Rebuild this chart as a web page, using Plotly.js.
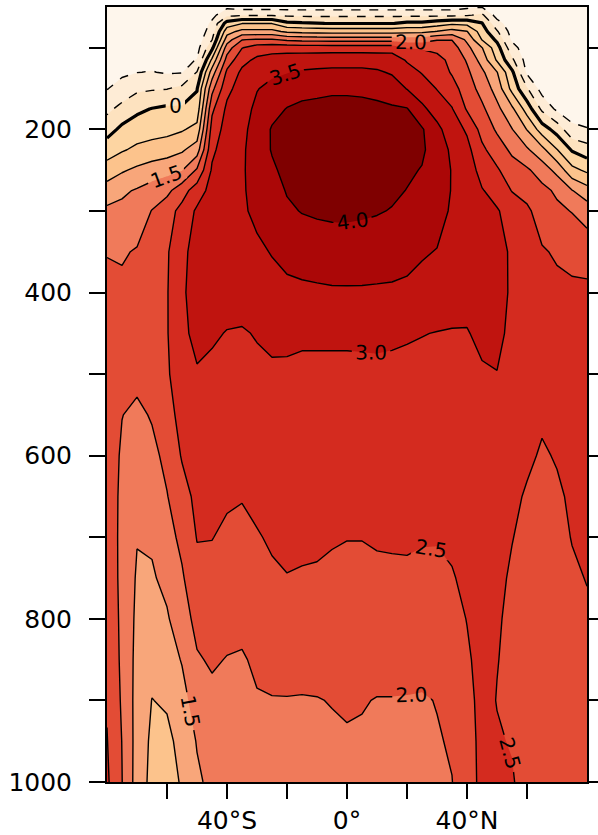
<!DOCTYPE html>
<html><head><meta charset="utf-8">
<script src="https://cdn.plot.ly/plotly-3.0.1.min.js"></script>
<style>html,body{margin:0;padding:0;background:#fff;}#chart{width:598px;height:835px;}</style>
</head><body><div id="chart"></div>
<script>
// latitude (deg, negative = S) and pressure (hPa)
const latitudes = [-80,-75,-70,-65,-60,-55,-50,-45,-40,-35,-30,-25,-20,-15,-10,-5,0,5,10,15,20,25,30,35,40,45,50,55,60,65,70,75,80];
const pressureLevels = [50,60,70,80,90,100,115,130,150,175,200,225,250,275,300,350,400,450,500,550,600,650,700,750,800,850,900,950,1000];
// one vertical profile per latitude, values at pressureLevels (top -> bottom)
const profiles = [
 [-1.5,-1.45,-1.4,-1.35,-1.3,-1.25,-1.17,-1.1,-1.02,-0.62,-0.2,0.27,0.72,1.23,1.6,1.98,2.12,2.2,2.25,2.28,2.3,2.32,2.34,2.36,2.4,2.43,2.46,2.52,2.58],
 [-1.5,-1.45,-1.4,-1.35,-1.3,-1.25,-1.17,-1.08,-0.83,-0.34,0.11,0.45,0.94,1.41,1.63,1.95,2.1,2.12,2.08,2.01,1.93,1.88,1.86,1.86,1.88,1.9,1.94,1.99,2.01],
 [-1.5,-1.45,-1.4,-1.35,-1.3,-1.22,-1.12,-1.01,-0.6,-0.1,0.25,0.6,1.1,1.55,1.7,2.04,2.25,2.28,2.13,1.9,1.76,1.64,1.52,1.45,1.4,1.36,1.33,1.32,1.3],
 [-1.5,-1.45,-1.4,-1.35,-1.3,-1.22,-1.12,-0.98,-0.55,0.02,0.32,0.68,1.25,1.7,2.02,2.2,2.3,2.3,2.2,2.04,1.88,1.72,1.56,1.45,1.3,1.15,0.99,0.9,0.85],
 [-1.5,-1.45,-1.4,-1.35,-1.28,-1.2,-1.1,-1.05,-0.52,0.1,0.35,0.77,1.34,1.87,2.3,2.45,2.47,2.47,2.43,2.3,2.12,1.98,1.82,1.62,1.45,1.28,1.06,0.88,0.8],
 [-1.5,-1.45,-1.4,-1.35,-1.28,-1.2,-1.12,-1.03,-0.38,0.08,0.45,0.93,1.48,2.3,2.65,2.86,2.93,2.9,2.82,2.68,2.54,2.31,2.12,1.94,1.77,1.53,1.33,1.16,1.05],
 [-1.5,-1.45,-1.4,-1.35,-1.28,-1.18,-0.98,-0.48,-0.03,0.2,0.65,1.25,2.07,2.75,3.08,3.22,3.2,3.12,2.96,2.84,2.72,2.62,2.52,2.36,2.15,1.95,1.73,1.53,1.42],
 [-1.35,-1.15,-0.9,-0.75,-0.52,-0.12,0.6,1.23,1.85,2.4,2.7,2.9,3.06,3.18,3.25,3.28,3.2,3.06,2.9,2.78,2.68,2.6,2.51,2.38,2.25,2.06,1.88,1.72,1.62],
 [-1.1,-0.62,0.2,0.8,1.25,1.75,2.2,2.6,2.87,3.1,3.2,3.27,3.32,3.35,3.35,3.3,3.2,2.98,2.85,2.75,2.65,2.55,2.43,2.3,2.17,1.98,1.86,1.8,1.76],
 [-1.2,-0.55,0.48,1.15,1.98,2.48,2.85,3.1,3.22,3.32,3.38,3.42,3.43,3.43,3.42,3.35,3.2,2.96,2.86,2.77,2.67,2.52,2.4,2.27,2.12,1.96,1.85,1.8,1.78],
 [-1.2,-0.55,0.48,1.15,2.05,2.75,3.1,3.3,3.48,3.6,3.7,3.75,3.75,3.7,3.62,3.4,3.23,3.03,2.9,2.8,2.7,2.6,2.47,2.33,2.2,2.07,1.97,1.87,1.8],
 [-1.2,-0.55,0.48,1.15,2.05,2.8,3.2,3.42,3.62,3.85,4.04,4.03,3.93,3.82,3.72,3.53,3.3,3.1,2.93,2.82,2.72,2.63,2.55,2.44,2.3,2.15,1.98,1.9,1.85],
 [-1.22,-0.58,0.1,0.9,1.9,2.8,3.25,3.48,3.75,4.02,4.15,4.18,4.12,4.03,3.93,3.66,3.37,3.08,2.94,2.83,2.74,2.65,2.57,2.49,2.35,2.18,1.98,1.9,1.86],
 [-1.22,-0.6,0.05,0.85,1.85,2.78,3.28,3.55,3.85,4.1,4.2,4.22,4.18,4.1,4.02,3.72,3.4,3.06,2.92,2.82,2.73,2.65,2.57,2.47,2.35,2.18,1.97,1.9,1.86],
 [-1.22,-0.6,0.02,0.82,1.82,2.78,3.3,3.58,3.88,4.13,4.22,4.25,4.22,4.15,4.06,3.76,3.42,3.06,2.92,2.8,2.71,2.63,2.56,2.46,2.35,2.2,1.98,1.9,1.86],
 [-1.22,-0.6,-0.02,0.8,1.8,2.78,3.32,3.6,3.92,4.15,4.24,4.27,4.24,4.17,4.08,3.79,3.44,3.06,2.92,2.8,2.7,2.62,2.53,2.43,2.33,2.2,2.02,1.92,1.88],
 [-1.22,-0.6,-0.02,0.8,1.8,2.78,3.32,3.6,3.92,4.15,4.25,4.28,4.25,4.18,4.08,3.8,3.44,3.06,2.92,2.79,2.68,2.59,2.51,2.4,2.31,2.2,2.06,1.95,1.9],
 [-1.22,-0.6,-0.02,0.8,1.8,2.78,3.32,3.6,3.9,4.14,4.24,4.27,4.24,4.16,4.06,3.79,3.44,3.06,2.93,2.8,2.69,2.6,2.51,2.4,2.3,2.18,2.03,1.94,1.9],
 [-1.22,-0.6,-0.02,0.8,1.8,2.78,3.3,3.56,3.86,4.1,4.2,4.23,4.2,4.12,4.03,3.76,3.43,3.07,2.93,2.8,2.7,2.62,2.53,2.44,2.34,2.2,1.98,1.92,1.9],
 [-1.22,-0.6,-0.02,0.8,1.8,2.78,3.28,3.45,3.75,4.06,4.15,4.17,4.14,4.07,3.98,3.73,3.42,3.05,2.93,2.8,2.7,2.63,2.54,2.44,2.34,2.2,1.98,1.92,1.9],
 [-1.22,-0.6,0.1,0.85,1.75,2.48,2.95,3.2,3.48,4.03,4.1,4.1,4.06,3.99,3.9,3.65,3.4,3.03,2.92,2.81,2.72,2.64,2.54,2.45,2.35,2.2,1.97,1.9,1.88],
 [-1.22,-0.6,0.1,0.88,1.75,2.45,2.8,2.97,3.25,3.6,4.05,4.06,3.98,3.87,3.77,3.55,3.33,3.01,2.9,2.8,2.72,2.64,2.52,2.44,2.35,2.2,1.95,1.9,1.88],
 [-1.22,-0.6,0.25,1.02,1.97,2.4,2.62,2.78,2.98,3.3,3.62,3.8,3.82,3.78,3.7,3.48,3.22,2.99,2.89,2.8,2.72,2.63,2.52,2.43,2.33,2.2,2.02,1.96,1.93],
 [-1.22,-0.6,0.4,1.2,1.98,2.25,2.4,2.45,2.7,3.03,3.25,3.4,3.47,3.47,3.43,3.3,3.14,2.98,2.88,2.78,2.7,2.62,2.55,2.48,2.38,2.27,2.15,2.05,1.99],
 [-1.1,-0.55,0.35,1.02,1.4,1.65,1.95,2.1,2.25,2.45,2.93,3.15,3.28,3.32,3.32,3.25,3.12,2.98,2.88,2.8,2.72,2.66,2.6,2.56,2.51,2.45,2.4,2.35,2.32],
 [-1.02,-0.4,0.02,0.25,0.48,1.02,1.3,1.6,1.82,2.1,2.33,2.6,2.82,3.03,3.08,3.12,3.12,3.08,2.96,2.86,2.8,2.75,2.72,2.68,2.65,2.62,2.6,2.6,2.6],
 [-1.4,-1.2,-0.8,-0.45,-0.1,0.2,0.44,1.02,1.3,1.63,1.93,2.25,2.56,2.82,3.04,3.12,3.13,3.1,2.99,2.85,2.75,2.68,2.62,2.57,2.53,2.51,2.49,2.53,2.58],
 [-1.5,-1.4,-1.3,-1.2,-1.07,-0.8,-0.4,0.1,0.35,1.1,1.52,1.9,2.22,2.48,2.8,2.95,2.95,2.9,2.8,2.7,2.62,2.56,2.51,2.46,2.44,2.43,2.44,2.48,2.53],
 [-1.55,-1.5,-1.45,-1.4,-1.35,-1.3,-1.2,-1.08,-0.45,0.28,0.98,1.57,2.07,2.35,2.58,2.7,2.72,2.7,2.65,2.6,2.55,2.47,2.42,2.39,2.37,2.36,2.35,2.35,2.36],
 [-1.55,-1.52,-1.5,-1.47,-1.45,-1.42,-1.37,-1.3,-1.2,-0.6,0.25,1.15,1.78,2.13,2.3,2.54,2.62,2.64,2.6,2.54,2.47,2.43,2.4,2.38,2.36,2.35,2.34,2.34,2.35],
 [-1.55,-1.53,-1.52,-1.5,-1.48,-1.46,-1.42,-1.38,-1.3,-1.1,-0.2,0.52,1.35,1.92,2.1,2.45,2.6,2.62,2.6,2.56,2.52,2.46,2.42,2.39,2.37,2.36,2.35,2.35,2.35],
 [-1.55,-1.54,-1.53,-1.52,-1.5,-1.48,-1.45,-1.42,-1.37,-1.25,-0.88,-0.05,0.65,1.52,1.98,2.38,2.58,2.62,2.62,2.6,2.57,2.54,2.51,2.46,2.42,2.4,2.38,2.37,2.37],
 [-1.55,-1.55,-1.54,-1.53,-1.52,-1.5,-1.48,-1.45,-1.4,-1.3,-0.97,-0.28,0.4,1.2,1.78,2.3,2.6,2.66,2.66,2.64,2.62,2.58,2.55,2.51,2.46,2.42,2.4,2.38,2.37]
];
// fill colours, one per band: <-1.0, -1.0..-0.5, ..., 3.5..4.0, >4.0
const bandColors = ['#fef6ec','#feecd6','#fde2bf','#fdd5a2','#fcc38c','#f8a67a','#f07a5a','#e34c35','#d42b1f','#c0140f','#ab0707','#7f0000'];
const xTickVals = [-60,-40,-20,0,20,40,60];
const xTickText = ['','40°S','','0°','','40°N',''];
const yTickVals = [100,200,300,400,500,600,700,800,900,1000];
const yTickText = ['','200','','400','','600','','800','','1000'];

const nb = bandColors.length - 1;
const scale = bandColors.map((c, i) => [i / nb, c]);
const font = 'DejaVu Sans';
const base = {type: 'contour', x: latitudes, y: pressureLevels, z: profiles, transpose: true,
  autocontour: false, showscale: false, hoverinfo: 'skip'};
const lblFont = {family: font, size: 20, color: '#000'};
const traces = [
  Object.assign({}, base, {colorscale: scale,
    contours: {start: -1, end: 4, size: 0.5, coloring: 'fill', showlines: false},
    line: {width: 0, smoothing: 0}}),
  Object.assign({}, base, {contours: {start: -1, end: -0.5, size: 0.5, coloring: 'none'},
    line: {color: '#000', width: 1.4, dash: 'dash', smoothing: 0}}),
  Object.assign({}, base, {contours: {start: 0.5, end: 1.0, size: 0.5, coloring: 'none'},
    line: {color: '#000', width: 1.4, smoothing: 0}}),
  Object.assign({}, base, {contours: {start: 1.5, end: 4, size: 0.5, coloring: 'none',
    showlabels: true, labelfont: lblFont, labelformat: '.1f'},
    line: {color: '#000', width: 1.4, smoothing: 0}}),
  Object.assign({}, base, {contours: {start: 0, end: 0, size: 1, coloring: 'none',
    showlabels: true, labelfont: lblFont, labelformat: '.0f'},
    line: {color: '#000', width: 3.2, smoothing: 0}})
];
const tickFont = {family: font, size: 25, color: '#000'};
const layout = {
  width: 598, height: 835, margin: {l: 107, r: 11, t: 7, b: 53},
  paper_bgcolor: '#fff', plot_bgcolor: '#fff', showlegend: false,
  xaxis: {range: [-80, 80], tickmode: 'array', tickvals: xTickVals, ticktext: xTickText,
    ticks: 'outside', ticklen: 15, tickwidth: 2, tickcolor: '#000', showline: true,
    linecolor: '#000', linewidth: 2, mirror: true, showgrid: false, zeroline: false,
    tickfont: tickFont, ticklabelstandoff: 0},
  yaxis: {range: [1000, 50], tickmode: 'array', tickvals: yTickVals, ticktext: yTickText,
    ticks: 'outside', ticklen: 16, tickwidth: 2, tickcolor: '#000', showline: true,
    linecolor: '#000', linewidth: 2, mirror: 'ticks', showgrid: false, zeroline: false,
    tickfont: tickFont, ticklabelstandoff: 12}
};
Plotly.newPlot('chart', traces, layout, {staticPlot: true, displayModeBar: false});
</script></body></html>
